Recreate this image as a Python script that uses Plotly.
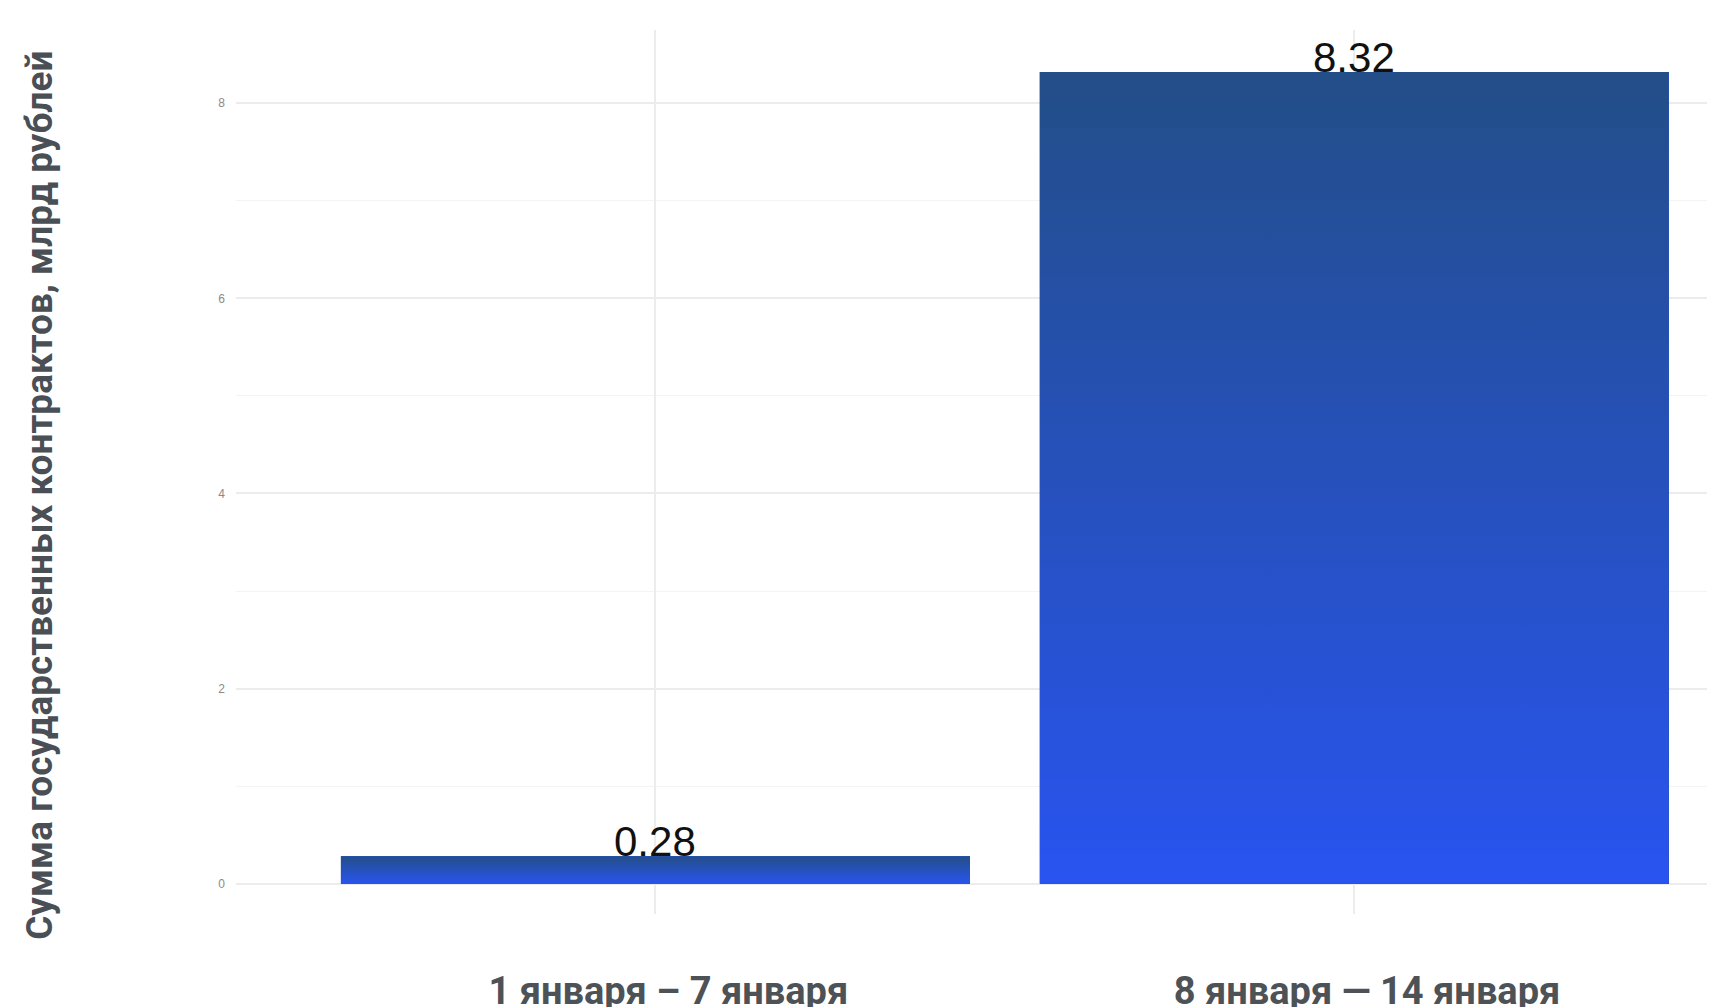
import plotly.graph_objects as go

categories = ["1 января – 7 января", "8 января — 14 января"]
values = [0.28, 8.32]
value_labels = ["0.28", "8.32"]
y_tick_values = [0, 2, 4, 6, 8]
y_title = "Сумма государственных контрактов, млрд рублей"

BAR_WIDTH = 0.9
COLOR_BOTTOM = "#2954F0"
COLOR_TOP = "#234E88"

positions = list(range(len(categories)))

fig = go.Figure()

# base bars
fig.add_trace(go.Bar(
    x=positions, y=values, width=BAR_WIDTH,
    marker=dict(color="#2651BE", line=dict(width=0)),
    hoverinfo="x+y", showlegend=False,
))

# gradient overlays, one per bar, built from the same data
for pos, val in zip(positions, values):
    half = BAR_WIDTH / 2
    fig.add_trace(go.Scatter(
        x=[pos - half, pos + half, pos + half, pos - half, pos - half],
        y=[0, 0, val, val, 0],
        mode="lines", fill="toself",
        line=dict(width=0, color="rgba(0,0,0,0)"),
        fillgradient=dict(type="vertical",
                          colorscale=[[0, COLOR_BOTTOM], [1, COLOR_TOP]]),
        hoverinfo="skip", showlegend=False,
    ))

for pos, val, lab in zip(positions, values, value_labels):
    fig.add_annotation(
        x=pos, y=val, xref="x", yref="y", text=lab, showarrow=False,
        yanchor="bottom", yshift=-11,
        font=dict(family="Liberation Sans, Arial, sans-serif", size=42, color="#111111"),
    )

fig.add_annotation(
    x=0, y=0.473, xref="paper", yref="paper", xshift=-196,
    text=y_title, textangle=-90, showarrow=False,
    xanchor="center", yanchor="middle",
    font=dict(family="Roboto, Arial, sans-serif", size=37, color="#4a4f55", weight="bold"),
)

fig.update_layout(
    width=1715, height=1007,
    margin=dict(l=228, r=0, t=22, b=101, autoexpand=False),
    paper_bgcolor="white", plot_bgcolor="white",
    bargap=0,
)

fig.update_xaxes(
    range=[-0.6, 1.528],
    tickvals=positions, ticktext=categories,
    showgrid=True, gridcolor="#ECECEC", gridwidth=1.5,
    zeroline=False, showline=False, ticks="",
    ticklabelstandoff=51, ticklabelshift=13, automargin=False,
    tickfont=dict(family="Roboto, Arial, sans-serif", size=38, color="#4d5257", weight="bold"),
)

fig.update_yaxes(
    range=[-0.31, 8.75],
    tickvals=y_tick_values,
    showgrid=True, gridcolor="#ECECEC", gridwidth=1.5,
    minor=dict(dtick=1, showgrid=True, gridcolor="#F4F4F4", gridwidth=1),
    zeroline=False, showline=False, ticks="",
    ticklabelstandoff=10, automargin=False,
    tickfont=dict(family="Liberation Sans, Arial, sans-serif", size=12, color="#8a8a8a"),
)

fig.write_html("out.html")
